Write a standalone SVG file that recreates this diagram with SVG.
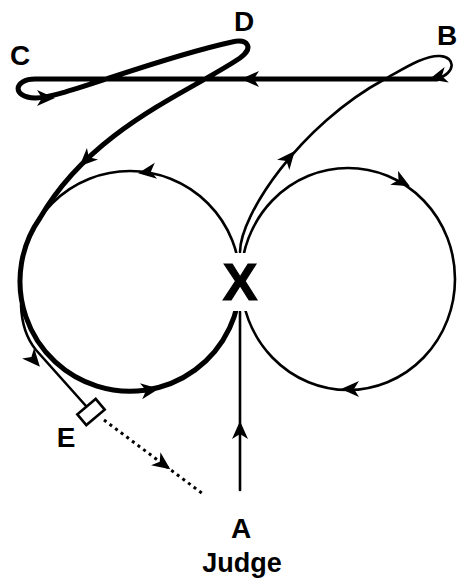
<svg xmlns="http://www.w3.org/2000/svg" width="457" height="584" viewBox="0 0 457 584">
<style>
.thin{fill:none;stroke:#000;stroke-width:2.6;stroke-linecap:round;stroke-linejoin:round}
.thick{fill:none;stroke:#000;stroke-width:5;stroke-linecap:round;stroke-linejoin:round}
.dot{fill:none;stroke:#000;stroke-width:3;stroke-dasharray:3 4}
.ah{fill:#000}
.lbl{font-family:"Liberation Sans",Arial,sans-serif;font-weight:bold;fill:#000;text-anchor:middle}
</style>
<defs>
<path id="ah" d="M9,0 L-9,-8 L-4,0 L-9,8 Z"/>
</defs>
<rect width="457" height="584" fill="#fff"/>
<g id="connectors">
<circle class="thin" cx="130" cy="281" r="110"/>
<ellipse class="thin" cx="348" cy="279" rx="107" ry="111"/>
<path class="thick" d="M437,79 L35,79 C14,79 11,97 35,98 C60,99 150,60 232,42 C248,38 254,48 240,58 C190,92 92,128 40,218 A110,110 0 1 0 240,281"/>
<path class="thin" d="M240,252 C240,215 300,125 385,79 C405,68 425,55 440,56 C456,57 456,73 437,79"/>
<path class="thin" d="M240,312 L240,490"/>
<path class="thin" d="M86,406 L36,350 Q22,333 21,305"/>
<path class="dot" d="M104,420 L203,494"/>
<use href="#ah" class="ah" transform="translate(250,79) rotate(180)"/>
<use href="#ah" class="ah" transform="translate(46,98) rotate(0)"/>
<use href="#ah" class="ah" transform="translate(438,77) rotate(165)"/>
<use href="#ah" class="ah" transform="translate(86,160) rotate(136)"/>
<use href="#ah" class="ah" transform="translate(147,172) rotate(172)"/>
<use href="#ah" class="ah" transform="translate(150,390) rotate(-8)"/>
<use href="#ah" class="ah" transform="translate(402,182) rotate(29)"/>
<use href="#ah" class="ah" transform="translate(350,389) rotate(180)"/>
<use href="#ah" class="ah" transform="translate(289,158) rotate(-50)"/>
<use href="#ah" class="ah" transform="translate(240,430) rotate(-90)"/>
<use href="#ah" class="ah" transform="translate(34,360) rotate(49)"/>
<use href="#ah" class="ah" transform="translate(163,464) rotate(36)"/>
</g>
<g id="node-X">
<rect x="214" y="253" width="52" height="58" fill="#fff"/>
<text class="lbl" x="240" y="300" font-size="52" stroke="#000" stroke-width="1.2">X</text>
</g>
<g id="node-C"><text class="lbl" x="20" y="65" font-size="28">C</text></g>
<g id="node-D"><text class="lbl" x="244" y="31" font-size="28">D</text></g>
<g id="node-B"><text class="lbl" x="447" y="45" font-size="28">B</text></g>
<g id="node-E">
<rect x="79" y="405" width="24" height="14" fill="#fff" stroke="#000" stroke-width="2.6" transform="rotate(-40 91 412)"/>
<text class="lbl" x="66" y="447" font-size="28">E</text>
</g>
<g id="node-A">
<text class="lbl" x="241" y="538" font-size="28">A</text>
<text class="lbl" x="242" y="572" font-size="27">Judge</text>
</g>
</svg>
